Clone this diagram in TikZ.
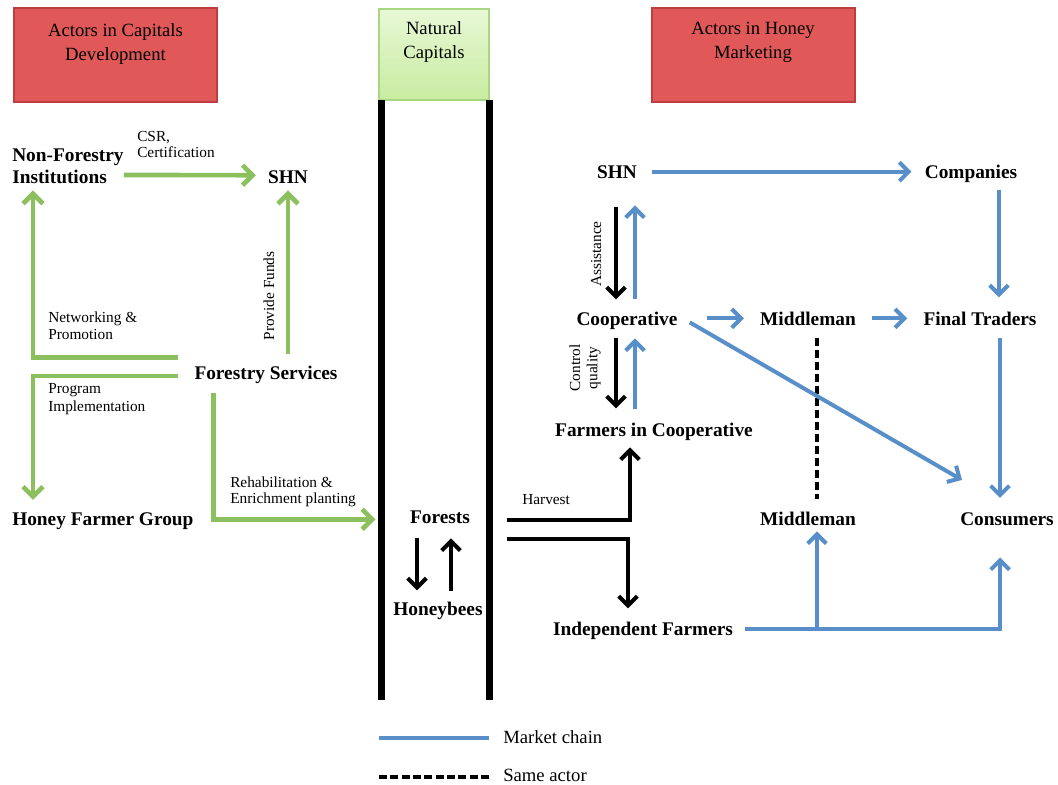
\documentclass[tikz,border=0pt]{standalone}
\usepackage{fontspec}
\setmainfont{Liberation Serif}
\usetikzlibrary{arrows.meta,calc}
\definecolor{gr}{RGB}{140,192,95}
\definecolor{bl}{RGB}{88,143,200}
\definecolor{redfill}{RGB}{224,88,88}
\definecolor{redline}{RGB}{188,62,62}
\definecolor{gfillA}{RGB}{232,248,214}
\definecolor{gfillB}{RGB}{200,236,160}
\definecolor{gline}{RGB}{168,214,130}
\begin{document}
\begin{tikzpicture}[x=0.75pt,y=-0.75pt,
  actor/.style={font=\fontsize{14.5}{16.5}\selectfont\bfseries, inner sep=0pt, align=left},
  lbl/.style={font=\fontsize{11.5}{13}\selectfont, inner sep=0pt, align=left},
  head/.style={font=\fontsize{14}{18}\selectfont, inner sep=0pt, align=center},
  redbox/.style={draw=redline, fill=redfill, line width=1.5pt, minimum width=152.25pt, minimum height=70.5pt, inner sep=0pt},
  greenbox/.style={draw=gline, top color=gfillA, bottom color=gfillB, line width=1pt, minimum width=82.5pt, minimum height=68.25pt, inner sep=0pt},
  tip/.style={-{Straight Barb[length=7pt,width=14pt]}},
  garrow/.style={draw=gr, line width=3.5pt, -{Straight Barb[length=7.5pt,width=15pt]}},
  barrow/.style={draw=black, line width=3pt, tip},
  blarrow/.style={draw=bl, line width=3pt, tip},
  barline/.style={draw=black, line width=5.25pt},
  sameactor/.style={draw=black, line width=3pt, dash pattern=on 6pt off 3pt}
]
\useasboundingbox (0,0) rectangle (1058,785);

% header boxes
\node[redbox] (hdrL) at (115.5,55) {};
\node[head, anchor=north] (hdrLt) at (115.5,23) {Actors in Capitals\\Development};
\node[greenbox] (hdrC) at (434,54.5) {};
\node[head, anchor=north] (hdrCt) at (434,21) {Natural\\Capitals};
\node[redbox] (hdrR) at (753,55) {};
\node[head, anchor=north] (hdrRt) at (753,22) {Actors in Honey\\Marketing};

% natural capital bars
\coordinate (barLtop) at (381.5,100);
\coordinate (barLbot) at (381.5,700);
\coordinate (barRtop) at (489,100);
\coordinate (barRbot) at (489,700);
\draw[barline] (barLtop) -- (barLbot);
\draw[barline] (barRtop) -- (barRbot);

% left actors
\node[actor, anchor=north west] (nfi) at (12,149) {Non-Forestry\\Institutions};
\node[actor, anchor=base] (shnL) at (288,183) {SHN};
\node[actor, anchor=base] (fs) at (266,379) {Forestry Services};
\node[actor, anchor=base west] (hfg) at (12,525) {Honey Farmer Group};

% center
\node[actor, anchor=base] (forests) at (440,523) {Forests};
\node[actor, anchor=base] (honeybees) at (438,615) {Honeybees};

% right actors
\node[actor, anchor=base] (shnR) at (617,178) {SHN};
\node[actor, anchor=base] (companies) at (971,178) {Companies};
\node[actor, anchor=base] (coop) at (627,325) {Cooperative};
\node[actor, anchor=base] (mid1) at (808,325) {Middleman};
\node[actor, anchor=base] (ft) at (980,325) {Final Traders};
\node[actor, anchor=base] (fic) at (654,436) {Farmers in Cooperative};
\node[actor, anchor=base] (mid2) at (808,525) {Middleman};
\node[actor, anchor=base] (cons) at (1007,525) {Consumers};
\node[actor, anchor=base] (indf) at (643,635) {Independent Farmers};

% labels
\node[lbl, anchor=north west, font=\fontsize{11.5}{11.5}\selectfont] (lcsr) at (137,131.5) {CSR,\\Certification};
\node[lbl, anchor=north west, font=\fontsize{11.5}{12.75}\selectfont] (lnet) at (48,311.5) {Networking \&\\Promotion};
\node[lbl, anchor=north west, font=\fontsize{11.5}{13.5}\selectfont] (lprog) at (48,383.5) {Program\\Implementation};
\node[lbl, anchor=north west, font=\fontsize{11.5}{12}\selectfont] (lreh) at (230,476.5) {Rehabilitation \&\\Enrichment planting};
\node[lbl, rotate=90] (lfund) at (269,296) {Provide Funds};
\node[lbl, anchor=base west] (lharv) at (522,504) {Harvest};
\node[lbl, rotate=90] (lassist) at (596,254) {Assistance};
\node[lbl, rotate=90, align=center] (lctrl) at (585,368) {Control\\quality};

% green connectors
\draw[garrow] (nfi.east |- 0,175) -- ($(shnL.west)+(-12,-1.5)$);
\draw[garrow] (shnL.south |- 0,354) -- ($(shnL.south)+(0,7)$);
\draw[garrow] ($(fs.west)+(-16,-17)$) -| ($(nfi.south west)+(21,6)$);
\draw[garrow] ($(fs.west)+(-16,1.5)$) -| ($(hfg.north west)+(21,-12)$);
\draw[garrow] ($(fs.south west)+(19,10)$) |- ($(forests.west -| barLtop)+(-6,2.5)$);

% black connectors
\draw[barrow] ($(forests.south)+(-23,15)$) -- ($(honeybees.north)+(-21,-11)$);
\draw[barrow] ($(honeybees.north)+(13,-10)$) -- ($(forests.south)+(11,15)$);
\draw[barrow] ($(forests.east)+(37,3.5)$) -| ($(fic.south)+(-24,7)$);
\draw[barrow] ($(forests.east)+(37,22)$) -| ($(indf.north)+(-15,-13)$);
\draw[barrow] ($(shnR.south)+(-1,29)$) -- ($(coop.north)+(-11,-12)$);
\draw[barrow] ($(coop.south)+(-11,9)$) -- ($(fic.north)+(-38,-14)$);

% blue connectors
\draw[blarrow] ($(coop.north)+(8,-12)$) -- ($(shnR.south)+(18,27)$);
\draw[blarrow] ($(fic.north)+(-19,-13)$) -- ($(coop.south)+(8,9)$);
\draw[blarrow] ($(shnR.east)+(15,0)$) -- ($(companies.west |- shnR.east)+(-13,0)$);
\draw[blarrow] ($(companies.south)+(28,8)$) -- ($(ft.north)+(19,-14)$);
\draw[blarrow] ($(coop.east |- mid1.west)+(29,0)$) -- ($(mid1.west)+(-16,0)$);
\draw[blarrow] ($(mid1.east)+(16,0)$) -- ($(ft.west)+(-16,0)$);
\draw[sameactor] ($(mid1.south)+(9,13)$) -- ($(mid2.north)+(9,-12)$);
\draw[blarrow] ($(coop.east)+(12,2)$) -- ($(cons.north west)+(2,-32)$);
\draw[blarrow] ($(ft.south)+(20,13)$) -- ($(cons.north)+(-7,-14)$);
\coordinate (jn) at ($(mid2.south)+(9,103)$);
\draw[blarrow] ($(indf.east)+(12,-1)$) -| ($(cons.south)+(-7,32)$);
\draw[blarrow] (jn) -- ($(mid2.south)+(9,6)$);

% legend
\coordinate (legA1) at (379,738);
\coordinate (legA2) at (489,738);
\coordinate (legB1) at (379,777);
\coordinate (legB2) at (489,777);
\draw[draw=bl, line width=3pt] (legA1) -- (legA2);
\draw[sameactor, dash pattern=on 6pt off 2.5pt] (legB1) -- (legB2);
\node[lbl, anchor=base west, font=\fontsize{14}{16}\selectfont] (legAt) at (503,743) {Market chain};
\node[lbl, anchor=base west, font=\fontsize{14}{16}\selectfont] (legBt) at (503,781) {Same actor};
\end{tikzpicture}
\end{document}
